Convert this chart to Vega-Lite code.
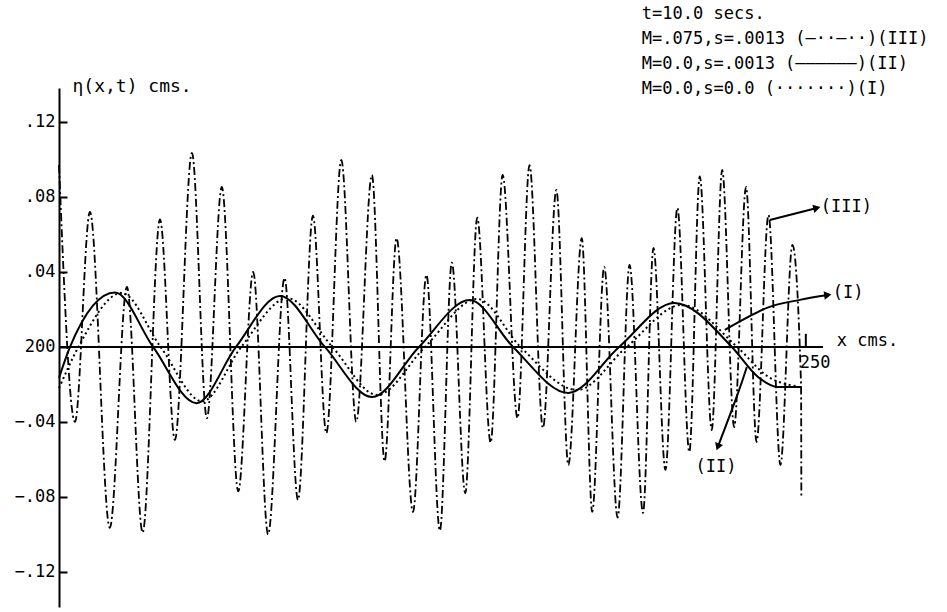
{
  "$schema": "https://vega.github.io/schema/vega-lite/v6.json",
  "width": 764,
  "height": 519,
  "autosize": {"type": "none"},
  "padding": {"left": 59, "top": 88, "right": 124, "bottom": 5},
  "background": "white",
  "config": {"view": {"stroke": null}, "font": "DejaVu Sans Mono"},
  "datasets": {
    "curves": [
      {"series": "II", "x": 200, "y": -0.0165},
      {"series": "II", "x": 200.74, "y": 0},
      {"series": "II", "x": 203.75, "y": 0.029},
      {"series": "II", "x": 206.3, "y": 0},
      {"series": "II", "x": 209.2, "y": -0.030},
      {"series": "II", "x": 211.85, "y": 0},
      {"series": "II", "x": 214.8, "y": 0.0272},
      {"series": "II", "x": 217.8, "y": 0},
      {"series": "II", "x": 220.95, "y": -0.0267},
      {"series": "II", "x": 224.1, "y": 0},
      {"series": "II", "x": 227.5, "y": 0.025},
      {"series": "II", "x": 230.4, "y": 0},
      {"series": "II", "x": 234.1, "y": -0.0245},
      {"series": "II", "x": 237.5, "y": 0},
      {"series": "II", "x": 241.2, "y": 0.0235},
      {"series": "II", "x": 245.05, "y": 0},
      {"series": "II", "x": 246.8, "y": -0.016},
      {"series": "II", "x": 248.1, "y": -0.0213},
      {"series": "II", "x": 249.7, "y": -0.0213},
      {"series": "I", "x": 200, "y": -0.022},
      {"series": "I", "x": 201.3, "y": 0},
      {"series": "I", "x": 204.2, "y": 0.0288},
      {"series": "I", "x": 206.8, "y": 0},
      {"series": "I", "x": 209.6, "y": -0.029},
      {"series": "I", "x": 212.2, "y": 0},
      {"series": "I", "x": 215.3, "y": 0.026},
      {"series": "I", "x": 218.3, "y": 0},
      {"series": "I", "x": 221.3, "y": -0.0256},
      {"series": "I", "x": 224.5, "y": 0},
      {"series": "I", "x": 228.0, "y": 0.0256},
      {"series": "I", "x": 230.9, "y": 0},
      {"series": "I", "x": 234.7, "y": -0.023},
      {"series": "I", "x": 238.0, "y": 0},
      {"series": "I", "x": 241.7, "y": 0.0224},
      {"series": "I", "x": 245.4, "y": 0},
      {"series": "I", "x": 247.5, "y": -0.016},
      {"series": "I", "x": 249.4, "y": -0.021},
      {"series": "III", "x": 200, "y": 0.097},
      {"series": "III", "x": 201.07, "y": -0.040},
      {"series": "III", "x": 202.07, "y": 0.072},
      {"series": "III", "x": 203.4, "y": -0.0965},
      {"series": "III", "x": 204.55, "y": 0.032},
      {"series": "III", "x": 205.6, "y": -0.099},
      {"series": "III", "x": 206.76, "y": 0.068},
      {"series": "III", "x": 207.76, "y": -0.0496},
      {"series": "III", "x": 208.9, "y": 0.1035},
      {"series": "III", "x": 209.9, "y": -0.038},
      {"series": "III", "x": 210.9, "y": 0.0853},
      {"series": "III", "x": 212.0, "y": -0.077},
      {"series": "III", "x": 213.0, "y": 0.040},
      {"series": "III", "x": 214.0, "y": -0.100},
      {"series": "III", "x": 215.1, "y": 0.0368},
      {"series": "III", "x": 216.0, "y": -0.0816},
      {"series": "III", "x": 217.0, "y": 0.070},
      {"series": "III", "x": 217.9, "y": -0.046},
      {"series": "III", "x": 218.9, "y": 0.0997},
      {"series": "III", "x": 219.9, "y": -0.040},
      {"series": "III", "x": 220.95, "y": 0.0917},
      {"series": "III", "x": 221.8, "y": -0.061},
      {"series": "III", "x": 222.6, "y": 0.058},
      {"series": "III", "x": 223.7, "y": -0.088},
      {"series": "III", "x": 224.6, "y": 0.0384},
      {"series": "III", "x": 225.5, "y": -0.098},
      {"series": "III", "x": 226.3, "y": 0.045},
      {"series": "III", "x": 227.2, "y": -0.078},
      {"series": "III", "x": 228.0, "y": 0.069},
      {"series": "III", "x": 228.9, "y": -0.051},
      {"series": "III", "x": 229.7, "y": 0.0917},
      {"series": "III", "x": 230.7, "y": -0.038},
      {"series": "III", "x": 231.5, "y": 0.097},
      {"series": "III", "x": 232.4, "y": -0.0432},
      {"series": "III", "x": 233.3, "y": 0.0837},
      {"series": "III", "x": 234.1, "y": -0.063},
      {"series": "III", "x": 235.0, "y": 0.058},
      {"series": "III", "x": 235.7, "y": -0.088},
      {"series": "III", "x": 236.5, "y": 0.0427},
      {"series": "III", "x": 237.4, "y": -0.091},
      {"series": "III", "x": 238.2, "y": 0.0437},
      {"series": "III", "x": 239.1, "y": -0.0885},
      {"series": "III", "x": 239.8, "y": 0.0528},
      {"series": "III", "x": 240.6, "y": -0.0656},
      {"series": "III", "x": 241.4, "y": 0.0741},
      {"series": "III", "x": 242.2, "y": -0.056},
      {"series": "III", "x": 242.9, "y": 0.091},
      {"series": "III", "x": 243.7, "y": -0.0443},
      {"series": "III", "x": 244.4, "y": 0.0944},
      {"series": "III", "x": 245.2, "y": -0.0427},
      {"series": "III", "x": 246.0, "y": 0.0853},
      {"series": "III", "x": 246.7, "y": -0.0507},
      {"series": "III", "x": 247.5, "y": 0.0704},
      {"series": "III", "x": 248.3, "y": -0.063},
      {"series": "III", "x": 249.1, "y": 0.0544},
      {"series": "III", "x": 249.68, "y": -0.02},
      {"series": "III", "x": 249.7, "y": -0.08}
    ],
    "axisline": [{"x": 200, "x2": 251.15, "y": 0}],
    "ticks": [{"x": 250, "y": 0, "y2": 0.007}],
    "arrows": [
      {"arrow": "III", "o": 1, "x": 247.59, "y": 0.0677},
      {"arrow": "III", "o": 2, "x": 250.74, "y": 0.0741},
      {"arrow": "I", "o": 1, "x": 244.58, "y": 0.0091},
      {"arrow": "I", "o": 2, "x": 247.39, "y": 0.0208},
      {"arrow": "I", "o": 3, "x": 249.6, "y": 0.0251},
      {"arrow": "I", "o": 4, "x": 251.47, "y": 0.0277},
      {"arrow": "II", "o": 1, "x": 246.05, "y": -0.0107},
      {"arrow": "II", "o": 2, "x": 245.4, "y": -0.026},
      {"arrow": "II", "o": 3, "x": 244.11, "y": -0.0533}
    ],
    "heads": [
      {"x": 250.74, "y": 0.0741, "angle": -14},
      {"x": 251.47, "y": 0.0277, "angle": -8},
      {"x": 244.11, "y": -0.0533, "angle": 110}
    ],
    "labels": [
      {"text": "(III)", "x": 251.0, "y": 0.0747, "align": "left"},
      {"text": "(I)", "x": 251.8, "y": 0.0288, "align": "left"},
      {"text": "(II)", "x": 243.98, "y": -0.064, "align": "center"},
      {"text": "x cms.", "x": 252.07, "y": 0.0032, "align": "left"},
      {"text": "250", "x": 249.6, "y": -0.0085, "align": "left"},
      {"text": "t=10.0 secs.", "x": 239.02, "y": 0.1776, "align": "left"},
      {"text": "M=.075,s=.0013 (—··—··)(III)", "x": 239.02, "y": 0.1643, "align": "left"},
      {"text": "M=0.0,s=.0013 (——————)(II)", "x": 239.02, "y": 0.1509, "align": "left"},
      {"text": "M=0.0,s=0.0 (·······)(I)", "x": 239.02, "y": 0.1376, "align": "left"}
    ]
  },
  "encoding": {
    "x": {"field": "x", "type": "quantitative", "scale": {"domain": [200, 251.15], "nice": false, "zero": false}, "axis": null},
    "y": {"field": "y", "type": "quantitative", "scale": {"domain": [-0.1387, 0.1381], "nice": false, "zero": false},
      "axis": {
        "values": [-0.12, -0.08, -0.04, 0, 0.04, 0.08, 0.12],
        "labelExpr": "datum.value == 0 ? '200' : replace(format(datum.value, '.2f'), '0.', '.')",
        "labelFont": "DejaVu Sans Mono", "labelFontSize": 17, "labelColor": "black",
        "tickSize": -8, "tickColor": "black", "tickWidth": 2, "labelPadding": 12,
        "domainColor": "black", "domainWidth": 2, "grid": false,
        "title": "η(x,t) cms.", "titleAngle": 0, "titleAlign": "left", "titleBaseline": "alphabetic",
        "titleX": 13, "titleY": 3, "titleFont": "DejaVu Sans Mono", "titleFontSize": 18, "titleFontWeight": "normal", "titleColor": "black"
      }
    }
  },
  "layer": [
    {"data": {"name": "axisline"}, "mark": {"type": "rule", "color": "black", "strokeWidth": 2}, "encoding": {"x2": {"field": "x2"}}},
    {"data": {"name": "ticks"}, "mark": {"type": "rule", "color": "black", "strokeWidth": 2}, "encoding": {"y2": {"field": "y2"}}},
    {"data": {"name": "curves"}, "transform": [{"filter": "datum.series == 'I'"}],
      "mark": {"type": "line", "interpolate": "monotone", "color": "black", "strokeWidth": 2, "strokeDash": [2, 3]}},
    {"data": {"name": "curves"}, "transform": [{"filter": "datum.series == 'II'"}],
      "mark": {"type": "line", "interpolate": "monotone", "color": "black", "strokeWidth": 2}},
    {"data": {"name": "curves"}, "transform": [{"filter": "datum.series == 'III'"}],
      "mark": {"type": "line", "interpolate": "monotone", "color": "black", "strokeWidth": 1.8, "strokeDash": [8, 3, 2, 3]}},
    {"data": {"name": "arrows"}, "mark": {"type": "line", "interpolate": "cardinal", "color": "black", "strokeWidth": 2},
      "encoding": {"detail": {"field": "arrow"}, "order": {"field": "o"}}},
    {"data": {"name": "heads"}, "mark": {"type": "point", "shape": "triangle-right", "filled": true, "color": "black", "size": 70, "opacity": 1},
      "encoding": {"angle": {"field": "angle", "type": "quantitative", "scale": null}}},
    {"data": {"name": "labels"}, "transform": [{"filter": "datum.align == 'left'"}],
      "mark": {"type": "text", "font": "DejaVu Sans Mono", "fontSize": 17, "color": "black", "baseline": "middle", "align": "left"},
      "encoding": {"text": {"field": "text"}}},
    {"data": {"name": "labels"}, "transform": [{"filter": "datum.align == 'center'"}],
      "mark": {"type": "text", "font": "DejaVu Sans Mono", "fontSize": 17, "color": "black", "baseline": "middle", "align": "center"},
      "encoding": {"text": {"field": "text"}}}
  ]
}
